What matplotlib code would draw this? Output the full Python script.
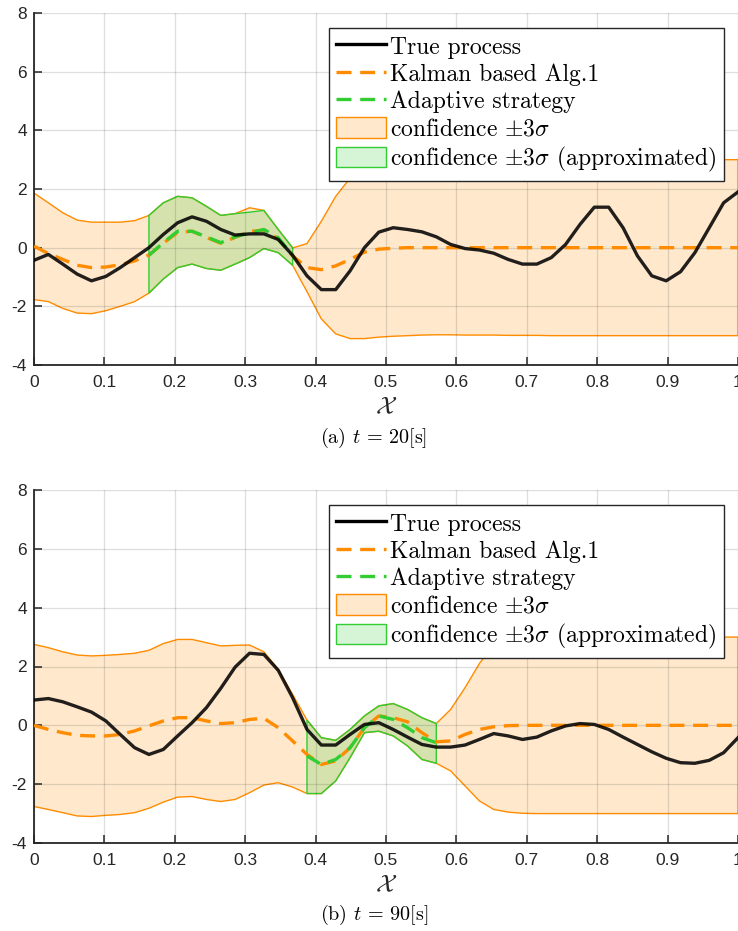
import numpy as np
import matplotlib
matplotlib.use('Agg')
import matplotlib.pyplot as plt
from matplotlib.colors import to_rgba
from matplotlib.lines import Line2D
from matplotlib.patches import Patch
from matplotlib.font_manager import FontProperties

plt.rcParams['font.family'] = 'Liberation Sans'
plt.rcParams['mathtext.fontset'] = 'cm'
plt.rcParams['axes.unicode_minus'] = False

ORANGE = '#ff8c00'
GREEN = '#32cd32'
AXCOL = '#262626'

# sampling grid of the estimate (50 points on [0, 1])
x_grid = np.linspace(0, 1, 50)

# ---- (a) t = 20 s -------------------------------------------------
true_a = [-0.43, -0.23, -0.56, -0.90, -1.13, -0.98, -0.68, -0.34, 0.00, 0.45,
          0.85, 1.05, 0.90, 0.62, 0.43, 0.47, 0.47, 0.28, -0.26, -0.96,
          -1.43, -1.43, -0.79, 0.00, 0.53, 0.68, 0.62, 0.54, 0.37, 0.11,
          -0.03, -0.08, -0.19, -0.40, -0.56, -0.56, -0.34, 0.11, 0.79, 1.38,
          1.38, 0.68, -0.28, -0.96, -1.13, -0.82, -0.17, 0.68, 1.53, 1.90]
kalman_a = [0.05, -0.20, -0.40, -0.60, -0.68, -0.66, -0.58, -0.45, -0.25, 0.15,
            0.52, 0.56, 0.35, 0.15, 0.35, 0.55, 0.60, 0.30, -0.28, -0.68,
            -0.75, -0.62, -0.40, -0.15, -0.05, -0.02, 0.00, 0.00, 0.00, 0.00,
            0.00, 0.00, 0.00, 0.00, 0.00, 0.00, 0.00, 0.00, 0.00, 0.00,
            0.00, 0.00, 0.00, 0.00, 0.00, 0.00, 0.00, 0.00, 0.00, 0.00]
upper_a = [1.86, 1.53, 1.19, 0.94, 0.87, 0.87, 0.87, 0.92, 1.10, 1.53,
           1.75, 1.70, 1.41, 1.10, 1.16, 1.36, 1.27, 0.62, -0.01, 0.14,
           0.90, 1.75, 2.37, 2.80, 2.95, 3.00, 3.00, 3.00, 3.00, 3.00,
           3.00, 3.00, 3.00, 3.00, 3.00, 3.00, 3.00, 3.00, 3.00, 3.00,
           3.00, 3.00, 3.00, 3.00, 3.00, 3.00, 3.00, 3.00, 3.00, 3.00]
lower_a = [-1.77, -1.84, -2.07, -2.23, -2.25, -2.15, -2.00, -1.84, -1.55, -1.07,
           -0.68, -0.56, -0.71, -0.77, -0.56, -0.34, -0.03, -0.17, -0.60, -1.50,
           -2.43, -2.94, -3.10, -3.10, -3.05, -3.02, -3.00, -2.98, -2.97, -2.97,
           -2.98, -2.98, -2.98, -2.99, -2.99, -2.99, -3.00, -3.00, -3.00, -3.00,
           -3.00, -3.00, -3.00, -3.00, -3.00, -3.00, -3.00, -3.00, -3.00, -3.00]
start_a = 8  # first grid index of the adaptive window
adapt_a = [-0.26, 0.17, 0.56, 0.56, 0.37, 0.17, 0.37, 0.50, 0.62, 0.34, -0.26]
adapt_up_a = [1.10, 1.53, 1.75, 1.70, 1.41, 1.10, 1.16, 1.21, 1.27, 0.62, 0.00]
adapt_lo_a = [-1.55, -1.07, -0.68, -0.56, -0.71, -0.77, -0.56, -0.34, -0.03, -0.17, -0.60]

# ---- (b) t = 90 s -------------------------------------------------
true_b = [0.86, 0.91, 0.80, 0.63, 0.45, 0.15, -0.31, -0.76, -0.99, -0.82,
          -0.36, 0.09, 0.60, 1.26, 1.98, 2.45, 2.41, 1.87, 0.94, -0.14,
          -0.67, -0.67, -0.31, 0.03, 0.09, -0.14, -0.40, -0.65, -0.74, -0.74,
          -0.67, -0.48, -0.28, -0.36, -0.48, -0.40, -0.19, -0.02, 0.06, 0.03,
          -0.14, -0.40, -0.65, -0.90, -1.12, -1.27, -1.29, -1.19, -0.93, -0.42]
kalman_b = [0.00, -0.14, -0.25, -0.34, -0.36, -0.36, -0.31, -0.19, -0.02, 0.15,
            0.26, 0.26, 0.15, 0.06, 0.09, 0.20, 0.24, -0.08, -0.53, -0.99,
            -1.33, -1.21, -0.76, -0.08, 0.32, 0.26, 0.12, -0.25, -0.56, -0.53,
            -0.31, -0.14, -0.05, -0.01, 0.00, 0.00, 0.00, 0.00, 0.00, 0.00,
            0.00, 0.00, 0.00, 0.00, 0.00, 0.00, 0.00, 0.00, 0.00, 0.00]
upper_b = [2.75, 2.64, 2.50, 2.39, 2.36, 2.38, 2.41, 2.45, 2.55, 2.78,
           2.92, 2.92, 2.81, 2.70, 2.72, 2.73, 2.50, 1.90, 1.05, 0.18,
           -0.42, -0.51, -0.14, 0.32, 0.66, 0.74, 0.54, 0.26, 0.06, 0.54,
           1.28, 2.10, 2.75, 3.00, 3.00, 3.00, 3.00, 3.00, 3.00, 3.00,
           3.00, 3.00, 3.00, 3.00, 3.00, 3.00, 3.00, 3.00, 3.00, 3.00]
lower_b = [-2.76, -2.86, -2.97, -3.08, -3.10, -3.06, -3.03, -2.97, -2.82, -2.61,
           -2.44, -2.42, -2.52, -2.59, -2.52, -2.29, -2.03, -1.95, -2.10, -2.32,
           -2.32, -1.89, -1.10, -0.25, -0.20, -0.36, -0.70, -1.16, -1.29, -1.55,
           -2.06, -2.57, -2.86, -2.95, -2.99, -3.00, -3.00, -3.00, -3.00, -3.00,
           -3.00, -3.00, -3.00, -3.00, -3.00, -3.00, -3.00, -3.00, -3.00, -3.00]
start_b = 19
adapt_b = [-1.04, -1.33, -1.16, -0.76, -0.08, 0.32, 0.20, -0.08, -0.42, -0.59]
adapt_up_b = [0.18, -0.42, -0.51, -0.14, 0.32, 0.66, 0.74, 0.54, 0.26, 0.06]
adapt_lo_b = [-2.32, -2.32, -1.89, -1.10, -0.25, -0.20, -0.36, -0.70, -1.16, -1.29]

legend_labels = ['True process', 'Kalman based Alg.1', 'Adaptive strategy',
                 r'confidence $\pm3\sigma$',
                 r'confidence $\pm3\sigma$ (approximated)']
x_ticks = [0, 0.1, 0.2, 0.3, 0.4, 0.5, 0.6, 0.7, 0.8, 0.9, 1]
x_ticklabels = ['0', '0.1', '0.2', '0.3', '0.4', '0.5', '0.6', '0.7', '0.8', '0.9', '1']
y_ticks = [-4, -2, 0, 2, 4, 6, 8]

serif = FontProperties(family='cmr10', size=17)
DASH = (4.5, 2.6)


def band(ax, x, up, lo, color, z):
    xs = np.r_[x, x[::-1]]
    ys = np.r_[up, lo[::-1]]
    ax.fill(xs, ys, facecolor=to_rgba(color, 0.2), edgecolor=color,
            linewidth=1.0, zorder=z)


def draw_panel(ax, true_v, kalman_v, up, lo, k0, adapt_v, adapt_up, adapt_lo):
    x = x_grid
    xa = x_grid[k0:k0 + len(adapt_v)]
    band(ax, x, np.array(up), np.array(lo), ORANGE, 1)
    band(ax, xa, np.array(adapt_up), np.array(adapt_lo), GREEN, 1.5)
    ax.plot(x, kalman_v, color=ORANGE, lw=2.4, dashes=DASH, zorder=3)
    ax.plot(xa, adapt_v, color=GREEN, lw=2.4, dashes=DASH, zorder=3.2)
    ax.plot(x, true_v, color='k', alpha=0.87, lw=2.4, zorder=4)

    ax.set_xlim(0, 1)
    ax.set_ylim(-4, 8)
    ax.set_xticks(x_ticks)
    ax.set_xticklabels(x_ticklabels)
    ax.set_yticks(y_ticks)
    ax.tick_params(direction='in', length=6, width=1.1, colors=AXCOL,
                   labelsize=12.5)
    ax.tick_params(axis='x', pad=7)
    ax.tick_params(axis='y', pad=5)
    ax.grid(True, color=AXCOL, alpha=0.15, lw=0.9)
    ax.set_axisbelow(False)
    for s in ('top', 'right'):
        ax.spines[s].set_visible(False)
    for s in ('left', 'bottom'):
        ax.spines[s].set_color(AXCOL)
        ax.spines[s].set_linewidth(1.3)

    handles = [
        Line2D([], [], color='k', lw=2.4),
        Line2D([], [], color=ORANGE, lw=2.4, dashes=DASH),
        Line2D([], [], color=GREEN, lw=2.4, dashes=DASH),
        Patch(facecolor=to_rgba(ORANGE, 0.2), edgecolor=ORANGE, lw=1.0),
        Patch(facecolor=to_rgba(GREEN, 0.2), edgecolor=GREEN, lw=1.0),
    ]
    leg = ax.legend(handles, legend_labels, loc='upper right',
                    bbox_to_anchor=(0.98, 0.957), borderaxespad=0,
                    prop=serif, fancybox=False, framealpha=1,
                    edgecolor=AXCOL, handlelength=2.1, handleheight=0.95,
                    handletextpad=0.2, labelspacing=0.17, borderpad=0.3)
    leg.get_frame().set_linewidth(1.0)
    leg.set_zorder(10)


fig = plt.figure(figsize=(7.38, 9.31), dpi=100)
ax_a = fig.add_axes([34 / 738, 1 - 365 / 931, 704 / 738, 352 / 931])
ax_b = fig.add_axes([34 / 738, 1 - 843 / 931, 704 / 738, 353 / 931])

draw_panel(ax_a, true_a, kalman_a, upper_a, lower_a,
           start_a, adapt_a, adapt_up_a, adapt_lo_a)
draw_panel(ax_b, true_b, kalman_b, upper_b, lower_b,
           start_b, adapt_b, adapt_up_b, adapt_lo_b)

# axis symbol and sub-captions
for y_lab, y_cap, cap in [(407, 438, r'(a) $t\,=\,20$[s]'),
                          (885, 915, r'(b) $t\,=\,90$[s]')]:
    fig.text(386 / 738, 1 - y_lab / 931, r'$\mathcal{X}$', ha='center',
             va='center', fontsize=18, color=AXCOL)
    fig.text(374 / 738, 1 - y_cap / 931, cap, ha='center', va='center',
             fontproperties=FontProperties(family='cmr10', size=14.5))

fig.savefig('out.png', dpi=100)
